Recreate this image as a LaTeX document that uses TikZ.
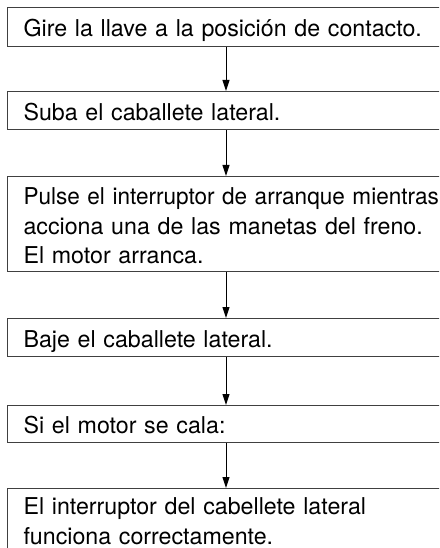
\documentclass[tikz,border=0pt]{standalone}
\usepackage{fontspec}
\setmainfont{TeX Gyre Heros}
\usetikzlibrary{arrows.meta}
\newcommand\sst{\rule[-5pt]{0pt}{29pt}}
\tikzset{
  stepbox/.style={draw=black!75, line width=1.1pt, anchor=north west,
    inner xsep=16pt, inner ysep=0pt, text width=520pt, align=left,
    font=\fontsize{23.2}{29}\selectfont},
  flow/.style={draw=black, line width=1pt, -{Triangle[length=11pt,width=7pt]}}
}
\begin{document}
\begin{tikzpicture}[x=1pt,y=-1pt]
\useasboundingbox (0,0) rectangle (439,548);
\clip (0,0) rectangle (439,548);
\coordinate (ax) at (226,0);
\node[stepbox, minimum height=39pt] (b1) at (7,7) {\sst Gire la llave a la posición de contacto.};
\node[stepbox, minimum height=38pt] (b2) at (7,91) {\sst Suba el caballete lateral.};
\node[stepbox, minimum height=95pt] (b3) at (7,176) {\sst\scalebox{0.972}[1]{Pulse el interruptor de arranque mientras}\\\sst acciona una de las manetas del freno.\\\sst El motor arranca.};
\node[stepbox, minimum height=38pt] (b4) at (7,318) {\sst Baje el caballete lateral.};
\node[stepbox, minimum height=37pt] (b5) at (7,405) {\sst Si el motor se cala:};
\node[stepbox, minimum height=62pt] (b6) at (7,488) {\sst El interruptor del cabellete lateral\\\sst funciona correctamente.};
\draw[flow] (b1.south -| ax) -- (b2.north -| ax);
\draw[flow] (b2.south -| ax) -- (b3.north -| ax);
\draw[flow] (b3.south -| ax) -- (b4.north -| ax);
\draw[flow] (b4.south -| ax) -- (b5.north -| ax);
\draw[flow] (b5.south -| ax) -- (b6.north -| ax);
\end{tikzpicture}
\end{document}
